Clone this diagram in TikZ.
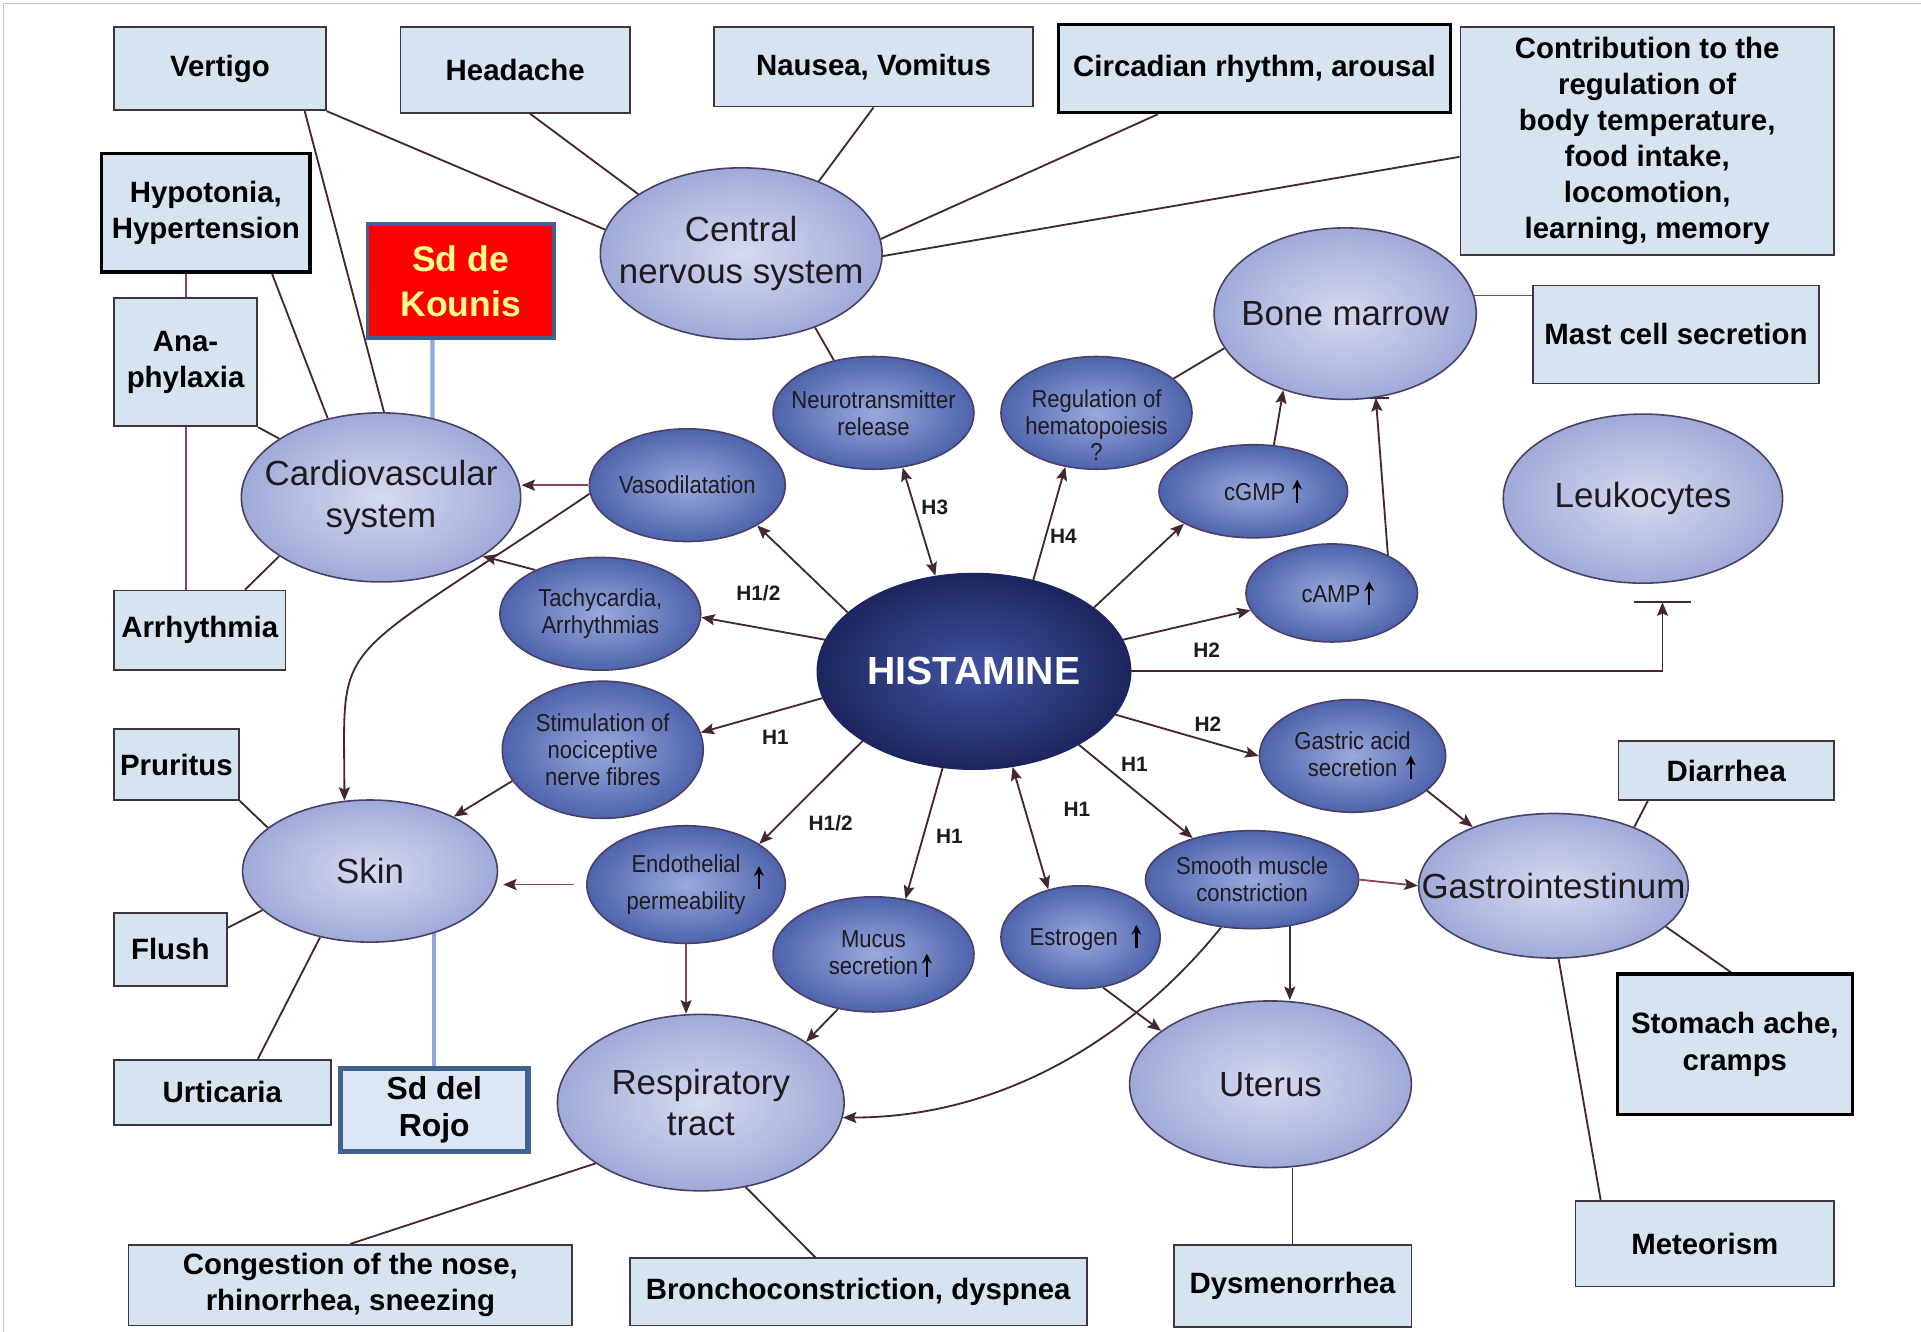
\documentclass[tikz,border=0pt]{standalone}
\usepackage{fontspec}
\setmainfont{Liberation Sans}
\newfontfamily\narrowf[FakeStretch=0.9]{Liberation Sans}
\usetikzlibrary{shapes.geometric,arrows.meta}
\definecolor{boxfill}{HTML}{D6E3F0}
\definecolor{boxline}{HTML}{3E3540}
\definecolor{elline}{HTML}{4A3F66}
\definecolor{bigin}{HTML}{D6DBF0}
\definecolor{bigout}{HTML}{A0AAD8}
\definecolor{smin}{HTML}{9AAADD}
\definecolor{smout}{HTML}{4E63AC}
\definecolor{hin}{HTML}{4254A3}
\definecolor{hout}{HTML}{1C255E}
\definecolor{lincol}{HTML}{45282E}
\definecolor{maroon}{HTML}{8A4656}
\definecolor{lblue}{HTML}{8EAAD8}
\definecolor{kred}{HTML}{FF0000}
\definecolor{kborder}{HTML}{41618F}
\definecolor{kyellow}{HTML}{FFFF88}
\definecolor{rojofill}{HTML}{DCE6F4}
\definecolor{txtdark}{HTML}{1E1A20}
\newcommand\uparr{\tikz[baseline=0pt]\draw[draw=black,line width=1.8pt,-{Stealth[length=8pt,width=8pt]}] (0pt,-2pt)--(0pt,17pt);}
\pgfdeclarelayer{bg}
\pgfsetlayers{bg,main}
\begin{document}
\begin{tikzpicture}[x=1pt,y=-1pt,
  box/.style={draw=boxline, line width=1.4pt, fill=boxfill, align=center, inner sep=0pt, font=\bfseries\fontsize{24}{29.5}\selectfont, text=black},
  tbox/.style={box, draw=black, line width=2.6pt},
  bigell/.style={ellipse, draw=elline, line width=1.3pt, inner color=bigin, outer color=bigout, inner sep=0pt},
  smell/.style={ellipse, draw=elline, line width=1.3pt, inner color=smin, outer color=smout, inner sep=0pt},
  bigtxt/.style={font=\fontsize{28.5}{34}\selectfont, align=center, text=txtdark},
  smtxt/.style={font=\narrowf\fontsize{20}{22}\selectfont, align=center, text=txtdark},
  hlab/.style={font=\bfseries\fontsize{17}{17}\selectfont, text=txtdark},
  conn/.style={draw=lincol, line width=1.5pt},
  mconn/.style={draw=maroon, line width=1.5pt},
  arr/.style={conn, -{Stealth[length=11pt,width=9pt,inset=2pt]}},
  darr/.style={conn, {Stealth[length=11pt,width=9pt,inset=2pt]}-{Stealth[length=11pt,width=9pt,inset=2pt]}},
  marr/.style={mconn, -{Stealth[length=11pt,width=9pt,inset=2pt,color=lincol]}},
  blueline/.style={draw=lblue, line width=3.5pt}
]
\useasboundingbox (0,0) rectangle (1568,1087);
\begin{pgfonlayer}{bg}
\fill[white] (0,0) rectangle (1568,1087);
\draw[black!22, line width=1.2pt] (3,1087) -- (3,3) -- (1568,3);
\end{pgfonlayer}

% rectangles
\node[box, minimum width=173pt, minimum height=68pt] (vert) at (179.5,56) {Vertigo};
\node[box, minimum width=187pt, minimum height=70pt] (head) at (420.5,57) {Headache};
\node[box, minimum width=260pt, minimum height=65pt] (naus) at (713,54.5) {Nausea, Vomitus};
\node[tbox, minimum width=320pt, minimum height=72pt] (circ) at (1024,56) {Circadian rhythm, arousal};
\node[box, minimum width=305pt, minimum height=186pt] (contrib) at (1344.5,115) {Contribution to the\\regulation of\\body temperature,\\food intake,\\locomotion,\\learning, memory};
\node[tbox, minimum width=170pt, minimum height=97pt] (hypo) at (168,173.5) {Hypotonia,\\Hypertension};
\node[box, draw=kborder, line width=3pt, fill=kred, text=kyellow, font=\bfseries\fontsize{29}{37}\selectfont, minimum width=152pt, minimum height=93pt] (kounis) at (376,229.5) {Sd de\\Kounis};
\node[box, minimum width=117pt, minimum height=105pt] (ana) at (151.5,295.5) {Ana-\\phylaxia};
\node[box, minimum width=140pt, minimum height=65pt] (arrh) at (163,514.5) {Arrhythmia};
\node[box, minimum width=102pt, minimum height=58pt] (prur) at (144,624) {Pruritus};
\node[box, minimum width=92pt, minimum height=60pt] (flush) at (139,775) {Flush};
\node[box, minimum width=177pt, minimum height=53pt] (urt) at (181.5,891.5) {Urticaria};
\node[box, draw=kborder, line width=4.5pt, fill=rojofill, font=\bfseries\fontsize{26}{30}\selectfont, minimum width=153pt, minimum height=68pt] (rojo) at (354.5,906) {Sd del\\Rojo};
\node[box, minimum width=362pt, minimum height=66pt] (cong) at (286,1049) {Congestion of the nose,\\rhinorrhea, sneezing};
\node[box, minimum width=373pt, minimum height=55pt] (bron) at (700.5,1054.5) {Bronchoconstriction, dyspnea};
\node[box, minimum width=194pt, minimum height=67pt] (dysm) at (1055,1049.5) {Dysmenorrhea};
\node[box, minimum width=211pt, minimum height=70pt] (met) at (1391.5,1015) {Meteorism};
\node[tbox, minimum width=192pt, minimum height=115pt] (stom) at (1416,852.5) {Stomach ache,\\cramps};
\node[box, minimum width=176pt, minimum height=48pt] (diar) at (1409,629) {Diarrhea};
\node[box, minimum width=234pt, minimum height=80pt] (mast) at (1368,273) {Mast cell secretion};

% big ellipses
\node[bigell, minimum width=230pt, minimum height=140pt, label={[bigtxt]center:{Central\\nervous system}}] (cns) at (605,207) {};
\node[bigell, minimum width=214pt, minimum height=140pt, label={[bigtxt]center:{Bone marrow}}] (bm) at (1098,256) {};
\node[bigell, minimum width=228pt, minimum height=138pt, label={[bigtxt]center:{Cardiovascular\\system}}] (cv) at (311,406) {};
\node[bigell, minimum width=228pt, minimum height=138pt, label={[bigtxt]center:{Leukocytes}}] (leuk) at (1341,407) {};
\node[bigell, minimum width=208pt, minimum height=116pt, label={[bigtxt]center:{Skin}}] (skin) at (302,711) {};
\node[bigell, minimum width=234pt, minimum height=144pt, label={[bigtxt]center:{Respiratory\\tract}}] (resp) at (572,900) {};
\node[bigell, minimum width=230pt, minimum height=136pt, label={[bigtxt]center:{Uterus}}] (ut) at (1037,885) {};
\node[bigell, minimum width=220pt, minimum height=118pt, label={[bigtxt]center:{Gastrointestinum}}] (gi) at (1268,723) {};

% histamine
\node[ellipse, draw=hout, line width=1pt, inner color=hin, outer color=hout, minimum width=256pt, minimum height=160pt, inner sep=0pt, label={[font=\bfseries\fontsize{32}{32}\selectfont, text=white]center:HISTAMINE}] (hist) at (795,548) {};

% small ellipses
\node[smell, minimum width=164pt, minimum height=92pt, label={[smtxt]center:{Neurotransmitter\\release}}] (neuro) at (713,337) {};
\node[smell, minimum width=156pt, minimum height=92pt, label={[smtxt, yshift=-10pt]center:{Regulation of\\hematopoiesis\\?}}] (reg) at (895,337) {};
\node[smell, minimum width=160pt, minimum height=92pt, label={[smtxt]center:{Vasodilatation}}] (vaso) at (561,396) {};
\node[smell, minimum width=154pt, minimum height=76pt, label={[smtxt, xshift=8pt]center:{cGMP\;\uparr}}] (cgmp) at (1023,401) {};
\node[smell, minimum width=140pt, minimum height=80pt, label={[smtxt, xshift=5pt]center:{cAMP\,\uparr}}] (camp) at (1087,484) {};
\node[smell, minimum width=164pt, minimum height=92pt, label={[smtxt]center:{Tachycardia,\\Arrhythmias}}] (tachy) at (490,501) {};
\node[smell, minimum width=164pt, minimum height=112pt, label={[smtxt]center:{Stimulation of\\nociceptive\\nerve fibres}}] (stim) at (492,612) {};
\node[smell, minimum width=152pt, minimum height=92pt, label={[smtxt]center:{Gastric acid\\secretion\rlap{\hspace{7pt}\uparr}}}] (gas) at (1104,617) {};
\node[smell, minimum width=162pt, minimum height=96pt, label={[smtxt]center:{Endothelial\rlap{\hspace{11pt}\raisebox{-12pt}{\uparr}}\\permeability}}] (endo) at (560,722) {};
\node[smell, minimum width=174pt, minimum height=80pt, label={[smtxt]center:{Smooth muscle\\constriction}}] (smooth) at (1022,718) {};
\node[smell, minimum width=164pt, minimum height=94pt, label={[smtxt]center:{Mucus\\secretion\rlap{\hspace{3pt}\uparr}}}] (mucus) at (713,779) {};
\node[smell, minimum width=130pt, minimum height=84pt, label={[smtxt, xshift=4pt]center:{Estrogen\;\;\uparr}}] (estr) at (882,765) {};

% receptor labels
\node[hlab] (h3) at (763,414) {H3};
\node[hlab] (h4) at (868,438) {H4};
\node[hlab] (h12a) at (619,484) {H1/2};
\node[hlab] (h2a) at (985,531) {H2};
\node[hlab] (h2b) at (986,591) {H2};
\node[hlab] (h1a) at (633,602) {H1};
\node[hlab] (h1b) at (926,624) {H1};
\node[hlab] (h12b) at (678,672) {H1/2};
\node[hlab] (h1c) at (775,683) {H1};
\node[hlab] (h1d) at (879,661) {H1};

\coordinate (lbar) at ([xshift=16pt,yshift=-15pt]leuk.south);

\begin{pgfonlayer}{bg}
% CNS links
\draw[conn] (vert.south east) -- (cns.170);
\draw[conn] ([xshift=-18pt]vert.south east) -- (cv.88);
\draw[conn] ([xshift=12pt]head.south) -- (cns.150);
\draw[conn] (naus.south) -- (cns.43);
\draw[conn] ([xshift=-79pt]circ.south) -- (cns.6);
\draw[conn] ([yshift=-13pt]contrib.west) -- (cns.359);
\draw[conn] (cns.315) -- (neuro.127);
% cardiovascular links
\draw[conn] ([xshift=54pt]hypo.south) -- (cv.124);
\draw[mconn] (ana.north |- hypo.south) -- (ana.north);
\draw[mconn] (ana.south) -- (ana.south |- arrh.north);
\draw[conn] (ana.south east) -- (cv.150);
\draw[conn] ([xshift=37pt]arrh.north) -- (cv.210);
\draw[blueline] ([xshift=-23pt]kounis.south) -- (cv.57);
% bone marrow
\draw[mconn] (bm.8) -- (bm.8 -| mast.west);
\draw[conn] (reg.24) -- (bm.196);
\draw[arr] (cgmp.66) -- (bm.231);
\draw[arr] (camp.34) -- (bm.290);
\draw[conn] ([xshift=-11pt]bm.290) -- ([xshift=11pt]bm.290);
% skin
\draw[conn] (prur.south east) -- (skin.157);
\draw[conn] ([yshift=-13pt]flush.north east) -- (skin.200);
\draw[conn] ([xshift=29pt]urt.north) -- (skin.233);
\draw[blueline] (skin.316) -- (skin.316 |- rojo.north);
% respiratory, uterus, GI
\draw[conn] (resp.210) -- (cong.north);
\draw[conn] (resp.298) -- ([xshift=-35pt]bron.north);
\draw[conn] (ut.south -| dysm.north) -- (dysm.north);
\draw[conn] (gi.36) -- ([xshift=-64pt]diar.south);
\draw[conn] (gi.340) -- ([xshift=-3pt]stom.north);
\draw[conn] (gi.274) -- ([xshift=-85pt]met.north);
% histamine arrows
\draw[arr] (hist.155) -- (vaso.330);
\draw[arr] (hist.168) -- (tachy.358);
\draw[darr] (hist.112) -- (neuro.298);
\draw[arr] (hist.57) -- (reg.240);
\draw[arr] (hist.28) -- (cgmp.205);
\draw[arr] (hist.12) -- (camp.192);
\draw[arr] (hist.east) -| (lbar);
\draw[conn] ([xshift=-23pt]lbar) -- ([xshift=23pt]lbar);
\draw[arr] (hist.343) -- (gas.180);
\draw[arr] (hist.325) -- (smooth.145);
\draw[darr] (hist.292) -- (estr.124);
\draw[arr] (hist.252) -- (mucus.60);
\draw[arr] (hist.212) -- (endo.29);
\draw[arr] (hist.190) -- (stim.10);
% second level arrows
\draw[arr] (gas.335) -- (gi.144);
\draw[marr] (smooth.east) -- (gi.west);
\draw[arr] (smooth.309) -- (smooth.309 |- ut.north);
\draw[arr] (smooth.237) .. controls (930,840) and (825,912) .. (resp.354);
\draw[arr] (estr.294) -- (ut.154);
\draw[arr] (mucus.237) -- (resp.30);
\draw[marr] (endo.south) -- (endo.south |- resp.north);
\draw[marr, shorten <=10pt, shorten >=4pt] (endo.west) -- (endo.west -| skin.east);
\draw[arr] (stim.199) -- (skin.33);
\draw[marr] (vaso.west) -- (vaso.west -| cv.east);
\draw[arr] (tachy.146) -- (cv.330);
\draw[arr] (vaso.185) .. controls (266,548) and (281,516) .. (skin.110);
\end{pgfonlayer}
\end{tikzpicture}
\end{document}
